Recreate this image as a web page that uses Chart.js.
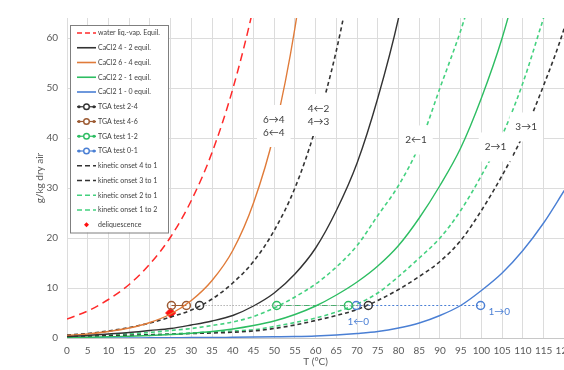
<!DOCTYPE html>
<html>
<head>
<meta charset="utf-8">
<script src="https://cdn.jsdelivr.net/npm/chart.js@4/dist/chart.umd.min.js"></script>
<style>
  html, body { margin: 0; padding: 0; overflow: hidden; background: #fff; }
  canvas { display: block; }
</style>
</head>
<body>
<canvas id="chart" width="580" height="370"></canvas>
<script>
// equilibrium curves, T in degC, humidity in g/kg dry air
const waterT = [0, 5, 10, 15, 20, 25, 30, 35, 40, 45, 50];
const waterG = [3.8, 5.4, 7.7, 10.7, 14.8, 20.2, 27.5, 37.1, 49.8, 66.2, 87];

const hex64T = [0, 5, 10, 15, 20, 25, 30, 35, 40, 45, 50, 55, 60];
const hex64G = [0.5, 0.8, 1.3, 2.0, 3.1, 4.8, 7.5, 11.5, 17.5, 27, 41, 62, 92];

const tet42T = [0, 5, 10, 15, 20, 25, 30, 35, 40, 45, 50, 55, 60, 65, 70, 75, 80, 85];
const tet42G = [0.3, 0.5, 0.8, 1.1, 1.5, 1.9, 2.6, 3.4, 4.5, 6.4, 9.0, 12.8, 18, 25.5, 35, 48, 64, 85];

const di21T = [0, 5, 10, 15, 20, 25, 30, 35, 40, 45, 50, 55, 60, 65, 70, 75, 80, 85, 90, 95, 100, 105, 110];
const di21G = [0.1, 0.15, 0.25, 0.35, 0.5, 0.7, 0.95, 1.3, 1.8, 2.5, 3.4, 4.7, 6.4, 8.6, 11.2, 14.4, 18.5, 24, 30.5, 38, 48, 60, 75];

const mono10T = [0, 5, 10, 15, 20, 25, 30, 35, 40, 45, 50, 55, 60, 65, 70, 75, 80, 85, 90, 95, 100, 105, 110, 115, 120];
const mono10G = [0, 0, 0, 0, 0.05, 0.05, 0.1, 0.1, 0.15, 0.2, 0.25, 0.3, 0.4, 0.6, 0.9, 1.3, 2, 3, 4.5, 6.5, 9.5, 13, 17.5, 23, 29.5];

// kinetic onset curves
const kin41T = [0, 5, 10, 15, 20, 25, 30, 35, 40, 45, 50, 55, 60, 65, 70];
const kin41G = [0.6, 0.9, 1.4, 2.1, 3, 4.2, 5.6, 7.8, 11, 15.3, 21.5, 30, 42, 57.5, 78];

const kin31T = [0, 5, 10, 15, 20, 25, 30, 35, 40, 45, 50, 55, 60, 65, 70, 75, 80, 85, 90, 95, 100, 105, 110, 115, 120, 125];
const kin31G = [0.3, 0.35, 0.45, 0.55, 0.65, 0.75, 0.9, 1.0, 1.15, 1.4, 1.9, 2.6, 3.5, 4.5, 5.7, 7.5, 9.7, 12.3, 15.3, 19.5, 25.5, 32.5, 40.5, 50.5, 62, 77];

const kin21T = [0, 5, 10, 15, 20, 25, 30, 35, 40, 45, 50, 55, 60, 65, 70, 75, 80, 85, 90, 95, 100, 105, 110, 115];
const kin21G = [0.2, 0.25, 0.35, 0.5, 0.65, 0.8, 1.0, 1.2, 1.4, 1.65, 2.3, 3.1, 4.0, 5.2, 6.8, 9.0, 12.3, 16, 20, 25.5, 32.5, 40.5, 51, 64];

const kin12T = [0, 5, 10, 15, 20, 25, 30, 35, 40, 45, 50, 55, 60, 65, 70, 75, 80, 85, 90, 95, 100];
const kin12G = [0.3, 0.4, 0.6, 0.85, 1.1, 1.5, 1.9, 2.5, 3.2, 4.3, 6.0, 8.2, 10.8, 14.2, 18.5, 24.5, 30.5, 38.5, 50, 61.5, 75];

// TGA tests (start / end temperatures at the test humidity)
const tga24T = [32, 72.7];
const tga24G = [6.5, 6.5];
const tga46T = [25.2, 28.8];
const tga46G = [6.5, 6.5];
const tga12T = [50.6, 67.9];
const tga12G = [6.5, 6.5];
const tga01T = [69.8, 99.8];
const tga01G = [6.5, 6.5];

const deliqT = [25];
const deliqG = [5];

// transition labels
const noteText = ['6→4\n6←4', '4←2\n4→3', '2←1', '2→1', '3→1', '1←0', '1→0'];
const noteT = [49.9, 60.7, 84.2, 103.4, 110.8, 70.3, 104.3];
const noteG = [42.4, 44.6, 39.6, 38.2, 42.2, 3.2, 5.2];
const noteBox = [true, true, true, true, true, false, false];

const pts = (xs, ys) => xs.map((x, i) => ({ x: x, y: ys[i] }));

function curve(label, xs, ys, color, dash, width) {
  return {
    label: label,
    data: pts(xs, ys),
    borderColor: color,
    backgroundColor: color,
    borderDash: dash,
    borderWidth: width,
    pointRadius: 0,
    fill: false,
    cubicInterpolationMode: 'monotone',
    kind: 'line'
  };
}

function tga(label, xs, ys, color, dash) {
  return {
    label: label,
    data: pts(xs, ys),
    borderColor: color,
    backgroundColor: 'rgba(255,255,255,0)',
    borderDash: dash,
    borderWidth: 1.2,
    pointRadius: 4,
    pointBorderWidth: 1.5,
    pointBorderColor: color,
    fill: false,
    kind: 'tga'
  };
}

const datasets = [
  curve('water liq.-vap. Equil.', waterT, waterG, '#ff2a2a', [8, 5], 1.5),
  curve('CaCl2 4 - 2 equil.', tet42T, tet42G, '#333333', [], 1.4),
  curve('CaCl2 6 - 4 equil.', hex64T, hex64G, '#e07b39', [], 1.4),
  curve('CaCl2 2 - 1 equil.', di21T, di21G, '#2dbd62', [], 1.4),
  curve('CaCl2 1 - 0 equil.', mono10T, mono10G, '#4a7fd4', [], 1.4),
  tga('TGA test 2-4', tga24T, tga24G, '#333333', [1, 2]),
  tga('TGA test 4-6', tga46T, tga46G, '#9c5a32', []),
  tga('TGA test 1-2', tga12T, tga12G, '#2dbd62', [6, 3]),
  tga('TGA test 0-1', tga01T, tga01G, '#4a7fd4', [2, 2]),
  curve('kinetic onset 4 to 1', kin41T, kin41G, '#333333', [4, 3], 1.6),
  curve('kinetic onset 3 to 1', kin31T, kin31G, '#333333', [4, 3], 1.6),
  curve('kinetic onset 2 to 1', kin21T, kin21G, '#44d17f', [4, 3], 1.6),
  curve('kinetic onset 1 to 2', kin12T, kin12G, '#44d17f', [4, 3], 1.6),
  {
    label: 'deliquescence',
    data: pts(deliqT, deliqG),
    showLine: false,
    pointStyle: 'rectRot',
    pointRadius: 5,
    backgroundColor: '#ff1010',
    borderColor: '#ff1010',
    kind: 'point'
  }
];
// the TGA grey connecting line is lighter than its markers
datasets[5].borderColor = '#8c8c8c';

const notesPlugin = {
  id: 'notes',
  afterDatasetsDraw(chart) {
    const ctx = chart.ctx;
    const xs = chart.scales.x, ys = chart.scales.y;
    ctx.save();
    ctx.font = '10px Lato, "DejaVu Sans"';
    ctx.textAlign = 'center';
    ctx.textBaseline = 'middle';
    noteText.forEach((txt, i) => {
      const lines = txt.split('\n');
      const cx = xs.getPixelForValue(noteT[i]);
      const cy = ys.getPixelForValue(noteG[i]);
      const lh = 13;
      const w = Math.max(...lines.map(l => ctx.measureText(l).width));
      const h = lines.length * lh;
      if (noteBox[i]) {
        ctx.fillStyle = '#ffffff';
        ctx.fillRect(cx - w / 2 - 6, cy - h / 2 - 8, w + 12, h + 16);
      }
      ctx.fillStyle = noteBox[i] ? '#404040' : '#4a7fd4';
      lines.forEach((l, j) => {
        ctx.fillText(l, cx, cy - h / 2 + lh / 2 + j * lh);
      });
    });
    ctx.restore();
  }
};

const legendPlugin = {
  id: 'boxLegend',
  afterDraw(chart) {
    const ctx = chart.ctx;
    const left = 70, top = 25, width = 98, rowH = 14.75;
    const ds = chart.data.datasets;
    const height = ds.length * rowH + 1;
    ctx.save();
    ctx.fillStyle = '#ffffff';
    ctx.fillRect(left, top, width, height);
    ctx.strokeStyle = '#7f7f7f';
    ctx.lineWidth = 1;
    ctx.strokeRect(left + 0.5, top + 0.5, width, height);
    ctx.font = '7px Lato';
    ctx.textBaseline = 'middle';
    ctx.textAlign = 'left';
    ds.forEach((d, i) => {
      const y = top + 8 + i * rowH;
      const x0 = left + 7, x1 = left + 26;
      if (d.kind === 'line') {
        ctx.strokeStyle = d.borderColor;
        ctx.lineWidth = 1.6;
        ctx.setLineDash(d.borderDash.length ? [5, 3] : []);
        ctx.beginPath();
        ctx.moveTo(x0, y);
        ctx.lineTo(x1, y);
        ctx.stroke();
        ctx.setLineDash([]);
      } else if (d.kind === 'tga') {
        ctx.strokeStyle = d.pointBorderColor;
        ctx.fillStyle = d.pointBorderColor;
        ctx.lineWidth = 1.2;
        ctx.beginPath();
        ctx.moveTo(x0, y);
        ctx.lineTo(x1, y);
        ctx.stroke();
        [x0 + 2, x1 - 2].forEach(px => {
          ctx.beginPath();
          ctx.arc(px, y, 1.6, 0, Math.PI * 2);
          ctx.fill();
        });
        ctx.fillStyle = '#ffffff';
        ctx.lineWidth = 1.4;
        ctx.beginPath();
        ctx.arc((x0 + x1) / 2, y, 2.8, 0, Math.PI * 2);
        ctx.fill();
        ctx.stroke();
      } else {
        ctx.fillStyle = d.backgroundColor;
        const cx = (x0 + x1) / 2;
        ctx.beginPath();
        ctx.moveTo(cx, y - 2.5);
        ctx.lineTo(cx + 2.5, y);
        ctx.lineTo(cx, y + 2.5);
        ctx.lineTo(cx - 2.5, y);
        ctx.closePath();
        ctx.fill();
      }
      ctx.fillStyle = '#404040';
      ctx.fillText(d.label, left + 28, y);
    });
    ctx.restore();
  }
};

Chart.defaults.font.family = 'Lato';
Chart.defaults.color = '#595959';

new Chart(document.getElementById('chart'), {
  type: 'line',
  data: { datasets: datasets },
  options: {
    responsive: false,
    animation: false,
    layout: { padding: { left: 28, top: 18, right: 13, bottom: 0 } },
    plugins: { legend: { display: false }, tooltip: { enabled: false } },
    scales: {
      x: {
        type: 'linear',
        min: 0,
        max: 120,
        ticks: { stepSize: 5, padding: 7, autoSkip: false, maxRotation: 0, minRotation: 0, font: { size: 10 }, color: '#595959' },
        grid: { color: '#dcdcdc', drawTicks: false },
        border: { color: '#c8c8c8' },
        title: { display: true, text: 'T (°C)', font: { size: 10 }, color: '#595959', padding: { top: 0, bottom: 2 } },
        afterFit(s) { s.height = 32; }
      },
      y: {
        min: 0,
        max: 64,
        ticks: { stepSize: 10, includeBounds: false, padding: 9, font: { size: 10 }, color: '#595959' },
        grid: { color: '#dcdcdc', drawTicks: false },
        border: { display: false },
        title: { display: true, text: 'g/kg dry air', font: { size: 10 }, color: '#595959', padding: { top: 6, bottom: 0 } },
        afterFit(s) { s.width = 39; }
      }
    }
  },
  plugins: [notesPlugin, legendPlugin]
});
</script>
</body>
</html>
